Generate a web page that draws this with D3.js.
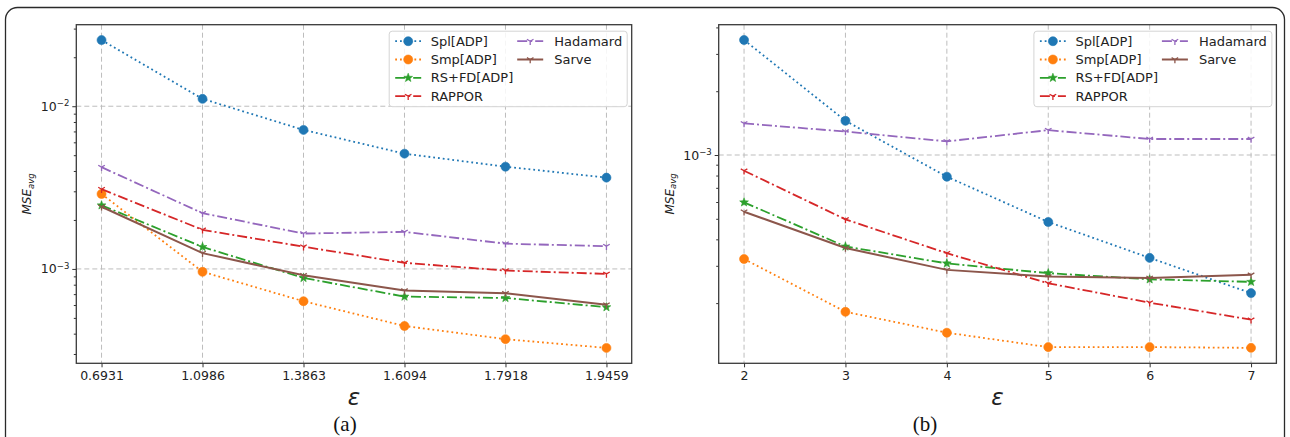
<!DOCTYPE html>
<html>
<head>
<meta charset="utf-8">
<script src="https://cdn.jsdelivr.net/npm/d3@7"></script>
<style>
  body { margin: 0; background: #fff; }
  svg { display: block; font-family: "DejaVu Sans", sans-serif; }
</style>
</head>
<body>
<div class="chart"></div>
<script>

// x categories (epsilon values)
var epsA = ["0.6931", "1.0986", "1.3863", "1.6094", "1.7918", "1.9459"];
var epsB = ["2", "3", "4", "5", "6", "7"];

var names = ["Spl[ADP]", "Smp[ADP]", "RS+FD[ADP]", "RAPPOR", "Hadamard", "Sarve"];

// panel (a) MSE_avg values
var splA      = [2.55e-2, 1.11e-2, 7.15e-3, 5.11e-3, 4.25e-3, 3.64e-3];
var smpA      = [2.89e-3, 9.6e-4, 6.33e-4, 4.46e-4, 3.70e-4, 3.27e-4];
var rsfdA     = [2.46e-3, 1.365e-3, 8.8e-4, 6.76e-4, 6.63e-4, 5.82e-4];
var rapporA   = [3.09e-3, 1.74e-3, 1.37e-3, 1.09e-3, 9.77e-4, 9.32e-4];
var hadamardA = [4.22e-3, 2.2e-3, 1.65e-3, 1.69e-3, 1.43e-3, 1.38e-3];
var sarveA    = [2.41e-3, 1.25e-3, 9.14e-4, 7.36e-4, 7.09e-4, 6.03e-4];

// panel (b) MSE_avg values
var splB      = [3.49e-3, 1.45e-3, 7.9e-4, 4.83e-4, 3.27e-4, 2.23e-4];
var smpB      = [3.23e-4, 1.82e-4, 1.45e-4, 1.24e-4, 1.24e-4, 1.23e-4];
var rsfdB     = [5.98e-4, 3.7e-4, 3.08e-4, 2.77e-4, 2.59e-4, 2.52e-4];
var rapporB   = [8.43e-4, 4.97e-4, 3.44e-4, 2.48e-4, 2.01e-4, 1.67e-4];
var hadamardB = [1.41e-3, 1.29e-3, 1.16e-3, 1.31e-3, 1.19e-3, 1.19e-3];
var sarveB    = [5.4e-4, 3.64e-4, 2.87e-4, 2.67e-4, 2.63e-4, 2.72e-4];

var width = 1290;
var height = 437;

var styles = [
  {color: '#1f77b4', dash: '1.8,3',    marker: 'circle', lw: 1.8},
  {color: '#ff7f0e', dash: '1.8,3',    marker: 'circle', lw: 1.8},
  {color: '#2ca02c', dash: '10,3,2,3', marker: 'star',   lw: 1.8},
  {color: '#d62728', dash: '10,3,2,3', marker: 'tri',    lw: 1.8},
  {color: '#9467bd', dash: '10,3,2,3', marker: 'tri',    lw: 1.8},
  {color: '#8c564b', dash: null,       marker: 'tri',    lw: 2.0}
];

var svg = d3.select('.chart').append('svg')
            .attr('width', width)
            .attr('height', height);

// outer frame of the figure
svg.append('rect')
   .attr('x', 5.5).attr('y', 7.5)
   .attr('width', 1279).attr('height', 480)
   .attr('rx', 12)
   .attr('fill', 'none')
   .attr('stroke', '#2a2a2a')
   .attr('stroke-width', 1.3);

function markerPath(type) {
  if (type === 'circle') return d3.symbol(d3.symbolCircle, 64)();
  if (type === 'star') {
    var p = [];
    for (var i = 0; i < 10; i++) {
      var r = i % 2 ? 1.9 : 4.6;
      var a = -Math.PI / 2 + i * Math.PI / 5;
      p.push([r * Math.cos(a), r * Math.sin(a)]);
    }
    return 'M' + p.join('L') + 'Z';
  }
  // tri_down "Y"
  return 'M0,0L0,3.8M0,0L-3.3,-1.9M0,0L3.3,-1.9';
}

function drawMarker(g, type, color, cx, cy) {
  var m = g.append('path')
           .attr('d', markerPath(type))
           .attr('transform', 'translate(' + cx + ',' + cy + ')');
  if (type === 'tri') {
    m.attr('fill', 'none').attr('stroke', color).attr('stroke-width', 1.3);
  } else {
    m.attr('fill', color).attr('stroke', color).attr('stroke-width', 0.6);
  }
}

function drawPanel(o) {
  var x = d3.scalePoint().domain(o.cats).range([o.left, o.right]).padding(0.25);
  var y = d3.scaleLog().domain(o.yDomain).range([o.bottom, o.top]);

  var all = y.ticks();
  var majors = all.filter(function(v) {
    var l = Math.log10(v);
    return Math.abs(l - Math.round(l)) < 1e-9;
  });
  var minors = all.filter(function(v) { return majors.indexOf(v) < 0; });

  var g = svg.append('g');

  // grid
  g.selectAll('.vgrid').data(o.cats).enter().append('line')
   .attr('class', 'vgrid')
   .attr('x1', function(d) { return x(d); })
   .attr('x2', function(d) { return x(d); })
   .attr('y1', o.top).attr('y2', o.bottom)
   .attr('stroke', '#bdbdbd').attr('stroke-width', 1)
   .style('stroke-dasharray', '5,3');
  g.selectAll('.hgrid').data(majors).enter().append('line')
   .attr('class', 'hgrid')
   .attr('x1', o.left).attr('x2', o.right)
   .attr('y1', function(d) { return y(d); })
   .attr('y2', function(d) { return y(d); })
   .attr('stroke', '#bdbdbd').attr('stroke-width', 1)
   .style('stroke-dasharray', '5,3');

  // axes
  var xAxis = d3.axisBottom(x).tickSize(4).tickPadding(3.5);
  var yMinor = d3.axisLeft(y).tickValues(minors).tickSize(2.5).tickFormat('');
  var yMajor = d3.axisLeft(y).tickValues(majors).tickSize(4).tickPadding(3)
                 .tickFormat(function() { return '10'; });

  var xg = g.append('g').attr('transform', 'translate(0,' + o.bottom + ')').call(xAxis);
  var ymg = g.append('g').attr('transform', 'translate(' + o.left + ',0)').call(yMinor);
  var yMg = g.append('g').attr('transform', 'translate(' + o.left + ',0)').call(yMajor);

  [xg, ymg, yMg].forEach(function(a) {
    a.select('.domain').remove();
    a.selectAll('line').attr('stroke', '#333').attr('stroke-width', 1);
    a.selectAll('text').attr('fill', '#222')
     .style('font-family', '"DejaVu Sans", sans-serif').style('font-size', '12.5px');
  });

  yMg.selectAll('.tick text').each(function(v) {
    var t = d3.select(this);
    t.append('tspan')
     .attr('dy', '-0.5em')
     .style('font-size', '8.5px')
     .text('\u2212' + Math.round(-Math.log10(v)));
  });

  // series
  var line = d3.line()
               .x(function(d, i) { return x(o.cats[i]); })
               .y(function(d) { return y(d); });

  o.series.forEach(function(vals, k) {
    var s = styles[k];
    var p = g.append('path')
             .attr('d', line(vals))
             .attr('fill', 'none')
             .attr('stroke', s.color)
             .attr('stroke-width', s.lw);
    if (s.dash) p.style('stroke-dasharray', s.dash);
    vals.forEach(function(v, i) {
      drawMarker(g, s.marker, s.color, x(o.cats[i]), y(v));
    });
  });

  // spines
  g.append('rect')
   .attr('x', o.left).attr('y', o.top)
   .attr('width', o.right - o.left).attr('height', o.bottom - o.top)
   .attr('fill', 'none').attr('stroke', '#3a3a3a').attr('stroke-width', 1.3);

  // legend
  var lw = 238, lh = 75.5;
  var lg = g.append('g')
            .attr('transform', 'translate(' + (o.right - 4.5 - lw) + ',' + (o.top + 6.5) + ')');
  lg.append('rect')
    .attr('width', lw).attr('height', lh).attr('rx', 3)
    .attr('fill', 'white').attr('fill-opacity', 0.85)
    .attr('stroke', '#d4d4d4');
  names.forEach(function(n, k) {
    var s = styles[k];
    var col = k < 4 ? 0 : 1;
    var row = k < 4 ? k : k - 4;
    var hx = col ? 128 : 6;
    var tx = col ? 165 : 41.5;
    var ry = 10 + row * 18.3;
    var h = lg.append('line')
              .attr('x1', hx).attr('x2', hx + 26)
              .attr('y1', ry).attr('y2', ry)
              .attr('stroke', s.color).attr('stroke-width', s.lw);
    if (s.dash) h.style('stroke-dasharray', s.dash);
    drawMarker(lg, s.marker, s.color, hx + 13, ry);
    lg.append('text')
      .attr('x', tx).attr('y', ry).attr('dy', '0.36em')
      .attr('fill', '#222')
      .style('font-size', '13px')
      .text(n);
  });

  // y label
  var yl = g.append('text')
            .attr('transform', 'translate(' + (o.left - 45) + ',' + ((o.top + o.bottom) / 2) + ') rotate(-90)')
            .attr('text-anchor', 'middle')
            .attr('fill', '#222')
            .style('font-style', 'italic')
            .style('font-size', '12px');
  yl.append('tspan').text('MSE');
  yl.append('tspan').attr('dy', '0.3em').style('font-size', '8.5px').text('avg');

  // x label
  g.append('text')
   .attr('x', (o.left + o.right) / 2).attr('y', 405)
   .attr('text-anchor', 'middle')
   .attr('fill', '#222')
   .style('font-style', 'italic')
   .style('font-size', '23px')
   .text('\u03b5');

  // caption
  g.append('text')
   .attr('x', o.captionX).attr('y', 431)
   .attr('text-anchor', 'middle')
   .attr('fill', '#111')
   .style('font-family', '"Liberation Serif", serif')
   .style('font-size', '21px')
   .text(o.caption);
}

drawPanel({
  cats: epsA,
  series: [splA, smpA, rsfdA, rapporA, hadamardA, sarveA],
  yDomain: [2.63e-4, 3.17e-2],
  left: 76.3, right: 631.7, top: 24.7, bottom: 363.3,
  caption: '(a)', captionX: 345
});

drawPanel({
  cats: epsB,
  series: [splB, smpB, rsfdB, rapporB, hadamardB, sarveB],
  yDomain: [1.04e-4, 4.12e-3],
  left: 718.7, right: 1276.4, top: 24.7, bottom: 363.3,
  caption: '(b)', captionX: 925
});

</script>
</body>
</html>
